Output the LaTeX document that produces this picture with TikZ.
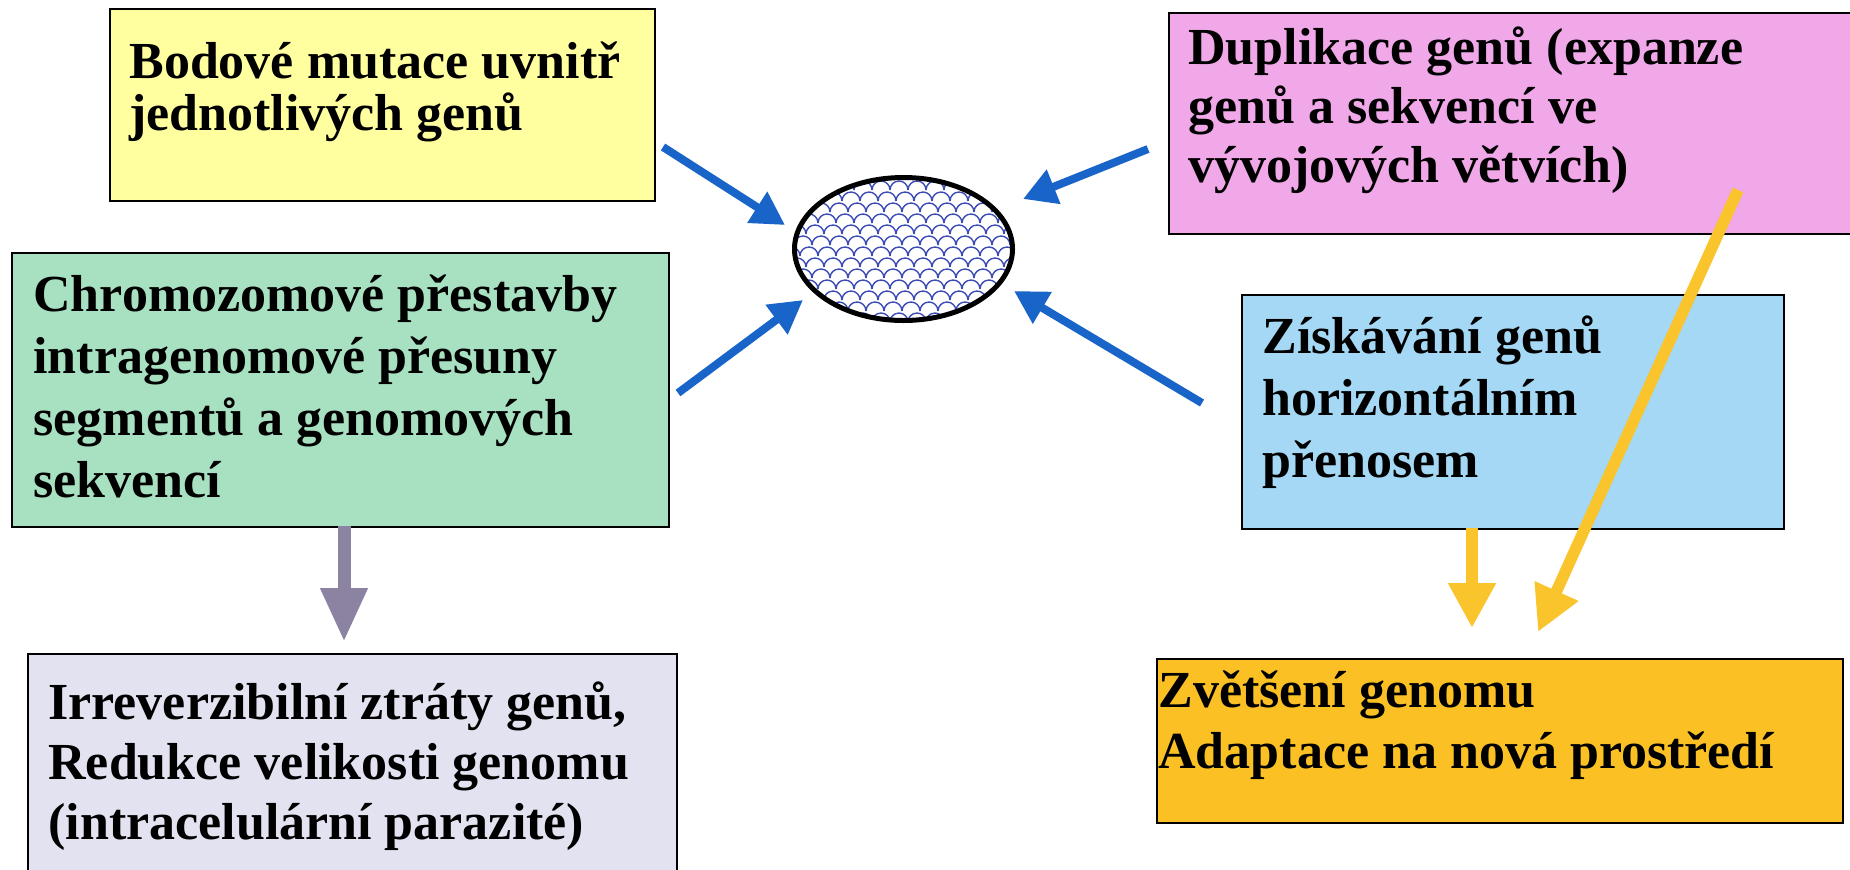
\documentclass[tikz,border=0pt]{standalone}
\usepackage{fontspec}
\setmainfont{Liberation Serif}
\usetikzlibrary{arrows.meta,shapes.geometric}
\definecolor{cYellow}{RGB}{255,255,160}
\definecolor{cPink}{RGB}{240,168,232}
\definecolor{cGreen}{RGB}{168,224,194}
\definecolor{cSky}{RGB}{164,216,244}
\definecolor{cLav}{RGB}{226,226,240}
\definecolor{cGold}{RGB}{250,192,36}
\definecolor{cBlueArr}{RGB}{24,100,200}
\definecolor{cGoldArr}{RGB}{250,196,44}
\definecolor{cGrayArr}{RGB}{140,130,162}
\definecolor{cScale}{RGB}{60,76,180}
\newcommand\boxlines[1]{\parbox[t]{14cm}{\raggedright #1}}
\begin{document}
\begin{tikzpicture}[x=0.5pt,y=-0.5pt,
  panel/.style={draw=black, line width=1pt, inner sep=0pt, anchor=north west},
  lbl/.style={anchor=base west, inner sep=0pt},
  barrow/.style={draw=cBlueArr, line width=4pt, -{Triangle[length=16.5pt,width=17.5pt]}},
  garrow/.style={draw=cGoldArr, line width=5.75pt, -{Triangle[length=22.5pt,width=22.5pt]}},
  parrow/.style={draw=cGrayArr, line width=6.5pt, -{Triangle[length=27pt,width=22pt]}}]
\useasboundingbox (0,0) rectangle (1850,869);
\fill[white] (0,0) rectangle (1850,869);

% panels
\node[panel, fill=cYellow, minimum width=272.5pt, minimum height=96pt] (yel) at (109,8) {};
\node[panel, fill=cPink, minimum width=346pt, minimum height=110.5pt] (pink) at (1168,12) {};
\node[panel, fill=cGreen, minimum width=328.5pt, minimum height=137pt] (grn) at (11,252) {};
\node[panel, fill=cSky, minimum width=271pt, minimum height=117pt] (sky) at (1241,294) {};
\node[panel, fill=cLav, minimum width=324.5pt, minimum height=113.5pt] (lav) at (27,653) {};
\node[panel, fill=cGold, minimum width=343pt, minimum height=82pt] (gold) at (1156,658) {};

% texts
\node[lbl, font=\bfseries\fontsize{26pt}{26pt}\selectfont] (tyel) at (129,78)
  {\boxlines{Bodové mutace uvnitř\\jednotlivých genů}};
\node[lbl, font=\bfseries\fontsize{26pt}{29.5pt}\selectfont] (tpink) at (1188,64)
  {\boxlines{Duplikace genů (expanze\\genů a sekvencí ve\\vývojových větvích)}};
\node[lbl, font=\bfseries\fontsize{26pt}{31pt}\selectfont] (tgrn) at (33,311)
  {\boxlines{Chromozomové přestavby\\intragenomové přesuny\\segmentů a genomových\\sekvencí}};
\node[lbl, font=\bfseries\fontsize{26pt}{31pt}\selectfont] (tsky) at (1262,353)
  {\boxlines{Získávání genů\\horizontálním\\přenosem}};
\node[lbl, font=\bfseries\fontsize{26pt}{30pt}\selectfont] (tlav) at (48,719)
  {\boxlines{Irreverzibilní ztráty genů,\\Redukce velikosti genomu\\(intracelulární parazité)}};
\node[lbl, font=\bfseries\fontsize{26pt}{30.5pt}\selectfont] (tgold) at (1158,707)
  {\boxlines{Zvětšení genomu\\Adaptace na nová prostředí}};

% central ellipse with scale pattern
\coordinate (ellc) at (903.5,249);
\begin{scope}
  \clip (ellc) ellipse [x radius=54.5pt, y radius=35.75pt];
  \foreach \r in {0,...,16} {
    \foreach \c in {0,...,15} {
      \pgfmathsetmacro\xx{770 + 18*\c + mod(6*\r,18)}
      \pgfmathsetmacro\yy{168 + 11*\r}
      \draw[cScale, line width=0.7pt] (\xx,\yy) arc[start angle=180, end angle=0, radius=4.5pt];
    }
  }
\end{scope}
\node[ellipse, draw=black, line width=2.5pt, minimum width=109pt, minimum height=71.5pt, inner sep=0pt] (ell) at (ellc) {};

% connector endpoints
\coordinate (s1) at (663,147);  \coordinate (e1) at (785,225);
\coordinate (s2) at (678,393);  \coordinate (e2) at (803,300);
\coordinate (s3) at (1148,149); \coordinate (e3) at (1023,199);
\coordinate (s4) at (1202,403); \coordinate (e4) at (1014,291);
\coordinate (s5) at (1472,528); \coordinate (e5) at (1472,628);
\coordinate (s6) at (1738,190); \coordinate (e6) at (1538,632);
\coordinate (s7) at (344,526);  \coordinate (e7) at (344,642);

\draw[barrow] (s1) -- (e1);
\draw[barrow] (s2) -- (e2);
\draw[barrow] (s3) -- (e3);
\draw[barrow] (s4) -- (e4);
\draw[garrow] (s5) -- (e5);
\draw[garrow] (s6) -- (e6);
\draw[parrow] (s7) -- (e7);
\end{tikzpicture}
\end{document}
